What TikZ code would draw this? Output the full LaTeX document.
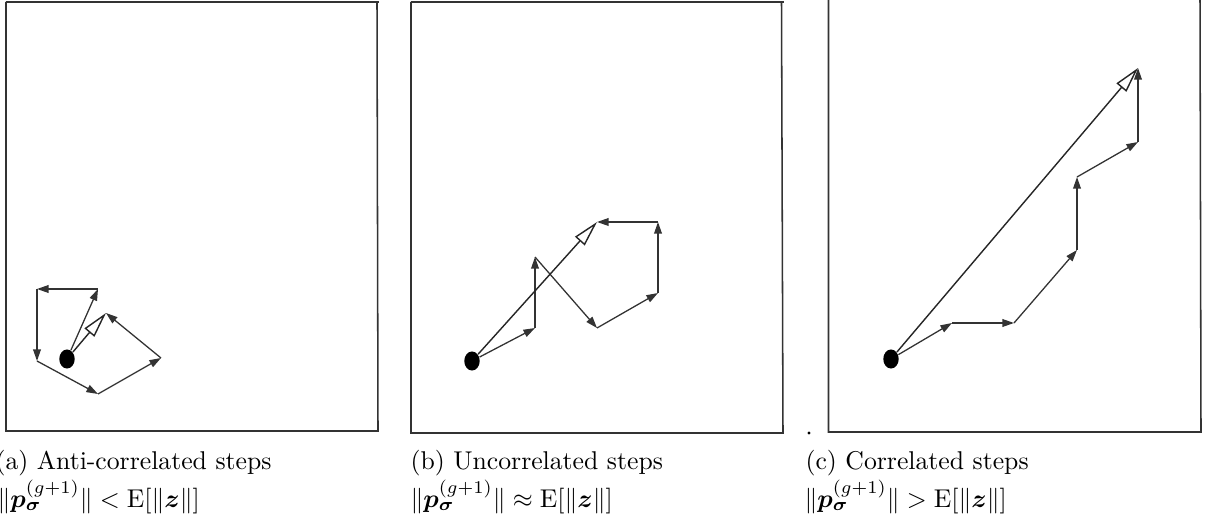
\documentclass[tikz,border=0pt]{standalone}
\usepackage{amsmath}
\usetikzlibrary{arrows.meta,shapes.geometric}
\tikzset{
  frame/.style={draw=black!80,line width=0.6pt},
  stepline/.style={draw=black!80,line width=0.5pt,-{Triangle[length=4.5pt,width=3pt]}},
  bigstep/.style={draw=black!85,line width=0.55pt,-{Triangle[length=10pt,width=5pt,fill=white]}},
  dotnode/.style={ellipse,fill=black,draw=none,inner sep=0pt,minimum width=6pt,minimum height=7.4pt},
  captext/.style={anchor=base west,inner sep=0pt,font=\fontsize{10}{12}\selectfont}
}
\begin{document}
\begin{tikzpicture}[x=0.3891pt,y=-0.3891pt]
\useasboundingbox (0,0) rectangle (1207,522);
% frames
\draw[frame] (6,2) -- (379,2);
\draw[frame] (6,2) -- (6,431) -- (378,431) -- (377,2);
\draw[frame] (411,2) -- (784,2);
\draw[frame] (411,2) -- (411,433) -- (783,433) -- (781.5,2);
\draw[frame] (828.5,-2) -- (828.5,432) -- (1201,432) -- (1200,-2);
\fill (809,433) circle (1.6);
% panel (a)
\node[dotnode] (a0) at (67,359) {};
\coordinate (a1) at (98,289);
\coordinate (a2) at (37,289);
\coordinate (a3) at (37,361);
\coordinate (a4) at (98,394);
\coordinate (a5) at (161,358);
\coordinate (a6) at (106,313);
\draw[stepline] (a0) -- (a1);
\draw[stepline] (a1) -- (a2);
\draw[stepline] (a2) -- (a3);
\draw[stepline] (a3) -- (a4);
\draw[stepline] (a4) -- (a5);
\draw[stepline] (a5) -- (a6);
\draw[bigstep] (a0) -- (a6);
% panel (b)
\node[dotnode] (b0) at (472,361) {};
\coordinate (b1) at (535,328);
\coordinate (b2) at (535,257);
\coordinate (b3) at (597,328);
\coordinate (b4) at (658,293);
\coordinate (b5) at (658,222);
\coordinate (b6) at (597,222);
\draw[stepline] (b0) -- (b1);
\draw[stepline] (b1) -- (b2);
\draw[stepline] (b2) -- (b3);
\draw[stepline] (b3) -- (b4);
\draw[stepline] (b4) -- (b5);
\draw[stepline] (b5) -- (b6);
\draw[bigstep] (b0) -- (b6);
% panel (c)
\node[dotnode] (c0) at (891,359) {};
\coordinate (c1) at (952,323);
\coordinate (c2) at (1014,323);
\coordinate (c3) at (1077,250);
\coordinate (c4) at (1077,177);
\coordinate (c5) at (1138,142);
\coordinate (c6) at (1138,68);
\draw[stepline] (c0) -- (c1);
\draw[stepline] (c1) -- (c2);
\draw[stepline] (c2) -- (c3);
\draw[stepline] (c3) -- (c4);
\draw[stepline] (c4) -- (c5);
\draw[stepline] (c5) -- (c6);
\draw[bigstep] (c0) -- (c6);
% captions
\node[captext] (ta) at (-5,469) {(a) Anti-correlated steps};
\node[captext] (ma) at (-3,507) {$\|\boldsymbol{p}_{\boldsymbol{\sigma}}^{(g+1)}\| < \mathrm{E}[\|\boldsymbol{z}\|]$};
\node[captext] (tb) at (410,469) {(b) Uncorrelated steps};
\node[captext] (mb) at (410,507) {$\|\boldsymbol{p}_{\boldsymbol{\sigma}}^{(g+1)}\| \approx \mathrm{E}[\|\boldsymbol{z}\|]$};
\node[captext] (tc) at (805,469) {(c) Correlated steps};
\node[captext] (mc) at (804,507) {$\|\boldsymbol{p}_{\boldsymbol{\sigma}}^{(g+1)}\| > \mathrm{E}[\|\boldsymbol{z}\|]$};
\end{tikzpicture}
\end{document}
